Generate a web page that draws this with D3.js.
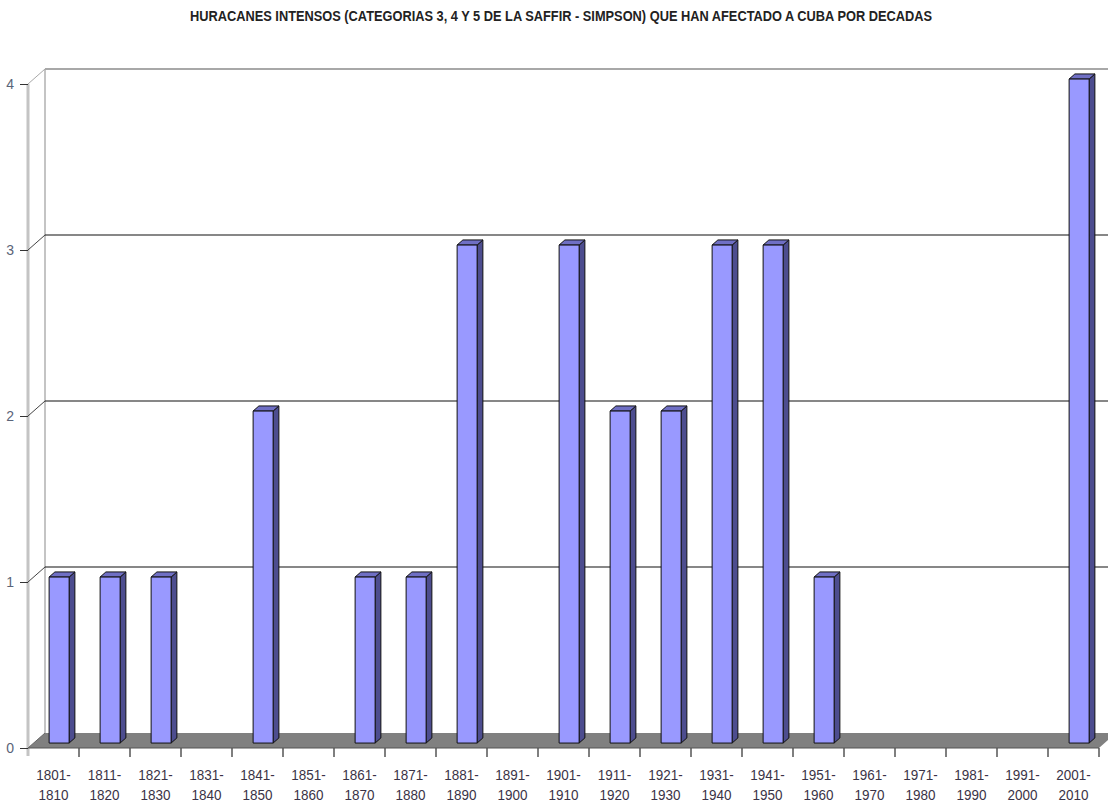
<!DOCTYPE html>
<html>
<head>
<meta charset="utf-8">
<script src="https://cdn.jsdelivr.net/npm/d3@7"></script>
<style>
  html, body { margin: 0; padding: 0; background: #fff; }
  svg { display: block; }
  text { font-family: "Liberation Sans Narrow", "Arial Narrow", "Liberation Sans", Arial, sans-serif; }
</style>
</head>
<body>
<svg id="chart" width="1108" height="804"></svg>
<script>
// Decades and number of intense hurricanes (cat. 3-5) affecting Cuba
const decades = ["1801-1810","1811-1820","1821-1830","1831-1840","1841-1850","1851-1860",
  "1861-1870","1871-1880","1881-1890","1891-1900","1901-1910","1911-1920","1921-1930",
  "1931-1940","1941-1950","1951-1960","1961-1970","1971-1980","1981-1990","1991-2000","2001-2010"];
const hurricanes = [1,1,1,0,2,0,1,1,3,0,3,2,2,3,3,1,0,0,0,0,4];
const yTicks = [0,1,2,3,4];
const title = "HURACANES INTENSOS (CATEGORIAS 3, 4 Y 5 DE LA SAFFIR - SIMPSON) QUE HAN AFECTADO A CUBA POR DECADAS";

const svg = d3.select("#chart");

// Plot frame: front plane and 3D depth offset
const plotLeft = 28, plotRight = 1099, plotBottom = 748, plotTop = 84;
const depthX = 17, depthY = -15;

const x = d3.scaleBand().domain(decades).range([plotLeft, plotRight]).paddingInner(0).paddingOuter(0);
const y = d3.scaleLinear().domain([0, 4]).range([plotBottom, plotTop]);

const barW = 20;
const barFront = 0.33, barBack = 0.67;   // depth fraction of bar faces

// Title
svg.append("text")
  .attr("x", 190).attr("y", 21)
  .attr("textLength", 742).attr("lengthAdjust", "spacingAndGlyphs")
  .attr("font-size", 14).attr("font-weight", "bold").attr("fill", "#222")
  .text(title);

// Left side wall edges
const wall = svg.append("g");
wall.append("line").attr("x1", plotLeft).attr("x2", plotLeft).attr("y1", y(4)).attr("y2", plotBottom + 8)
  .attr("stroke", "#c4c4c4").attr("stroke-width", 3);
wall.append("line").attr("x1", plotLeft + depthX).attr("x2", plotLeft + depthX)
  .attr("y1", y(4) + depthY).attr("y2", plotBottom + depthY)
  .attr("stroke", "#c4c4c4").attr("stroke-width", 2);

// Floor
svg.append("path")
  .attr("d", d3.line()([[plotLeft, plotBottom],[plotRight, plotBottom],[plotRight + depthX, plotBottom + depthY],[plotLeft + depthX, plotBottom + depthY]]) + "Z")
  .attr("fill", "#808080");
svg.append("line").attr("x1", plotLeft).attr("x2", plotRight).attr("y1", plotBottom).attr("y2", plotBottom)
  .attr("stroke", "#555").attr("stroke-width", 1);

// Gridlines on back wall plus the diagonal on the side wall
const grid = svg.append("g");
yTicks.filter(t => t > 0).forEach(t => {
  const yy = y(t);
  const col = t === 4 ? "#a8a8a8" : "#111";
  grid.append("line").attr("x1", plotLeft).attr("y1", yy).attr("x2", plotLeft + depthX).attr("y2", yy + depthY)
    .attr("stroke", t === 4 ? "#a8a8a8" : "#444").attr("stroke-width", 1);
  grid.append("line").attr("x1", plotLeft + depthX).attr("y1", yy + depthY).attr("x2", 1108).attr("y2", yy + depthY)
    .attr("stroke", col).attr("stroke-width", t === 4 ? 2 : 1.2);
});
grid.append("line").attr("x1", plotLeft).attr("y1", plotBottom).attr("x2", plotLeft + depthX).attr("y2", plotBottom + depthY)
  .attr("stroke", "#666").attr("stroke-width", 1);

// Y axis ticks and labels
const yAxis = d3.axisLeft(y).tickValues(yTicks).tickSize(8).tickPadding(6).tickFormat(d3.format("d"));
const yg = svg.append("g").attr("transform", `translate(${plotLeft},0)`).call(yAxis);
yg.select(".domain").remove();
yg.selectAll(".tick line").attr("stroke", "#333");
yg.selectAll(".tick text").attr("font-size", 14).attr("fill", "#5a6478")
  .attr("font-family", "\"Liberation Sans Narrow\", Arial, sans-serif");

// X axis ticks at category boundaries
const xg = svg.append("g");
const boundaries = decades.map(d => x(d)).concat([plotRight]);
xg.selectAll("line").data(boundaries.slice(1)).join("line")
  .attr("x1", d => d).attr("x2", d => d).attr("y1", plotBottom).attr("y2", plotBottom + 9)
  .attr("stroke", "#555").attr("stroke-width", 1.5);

// X labels on two lines, slightly condensed
const lab = xg.selectAll("g.lab").data(decades).join("g").attr("class", "lab")
  .attr("transform", d => `translate(${x(d) + x.bandwidth() / 2},0) scale(0.9,1)`);
lab.append("text").attr("y", 780).attr("text-anchor", "middle").attr("font-size", 15)
  .attr("fill", "#3a3346").text(d => d.split("-")[0] + "-");
lab.append("text").attr("y", 800).attr("text-anchor", "middle").attr("font-size", 15)
  .attr("fill", "#3a3346").text(d => d.split("-")[1]);

// 3D columns
const bars = svg.append("g");
const data = decades.map((d, i) => ({ d, v: hurricanes[i] })).filter(o => o.v > 0);
data.forEach(o => {
  const fx = x(o.d) + (x.bandwidth() - barW) / 2 + barFront * depthX;
  const fyOff = barFront * depthY;
  const sx = (barBack - barFront) * depthX, sy = (barBack - barFront) * depthY;
  const yTop = y(o.v) + fyOff, yBot = y(0) + fyOff;
  const g = bars.append("g").attr("stroke", "#111").attr("stroke-width", 1).attr("stroke-linejoin", "round");
  // side face
  g.append("path").attr("fill", "#4d4d8f")
    .attr("d", d3.line()([[fx + barW, yBot],[fx + barW, yTop],[fx + barW + sx, yTop + sy],[fx + barW + sx, yBot + sy]]) + "Z");
  // top face
  g.append("path").attr("fill", "#6f6fc4")
    .attr("d", d3.line()([[fx, yTop],[fx + barW, yTop],[fx + barW + sx, yTop + sy],[fx + sx, yTop + sy]]) + "Z");
  // front face
  g.append("rect").attr("x", fx).attr("y", yTop).attr("width", barW).attr("height", yBot - yTop)
    .attr("fill", "#9999ff");
});
</script>
</body>
</html>
